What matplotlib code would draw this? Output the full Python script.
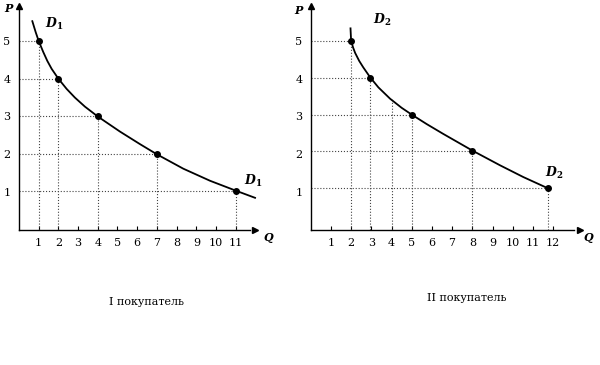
import matplotlib.pyplot as plt

plt.rcParams['font.family'] = ['DejaVu Serif']
plt.rcParams['mathtext.fontset'] = 'dejavuserif'

# marked points of the demand curves
q1 = [1, 2, 4, 7, 11]
p1 = [5, 4, 3, 2, 1.04]
q2 = [2, 2.95, 5, 8, 11.75]
p2 = [5, 4.03, 3.05, 2.1, 1.1]

# curve shapes
curve1_q = [0.68, 0.85, 1.0, 1.23, 1.44, 1.66, 2.0, 2.42, 2.84, 3.35, 4.0,
            5.13, 6.14, 7.0, 8.34, 9.7, 11.0, 11.98]
curve1_p = [5.52, 5.23, 5.0, 4.71, 4.47, 4.26, 4.0, 3.73, 3.5, 3.26, 3.0,
            2.6, 2.27, 2.0, 1.62, 1.3, 1.04, 0.85]
curve2_q = [1.97, 2.0, 2.1, 2.2, 2.4, 2.6, 2.95, 3.35, 3.93, 4.5, 5.0,
            5.74, 6.56, 8.0, 9.37, 10.52, 11.75]
curve2_p = [5.33, 5.0, 4.82, 4.68, 4.47, 4.3, 4.03, 3.77, 3.47, 3.23, 3.05,
            2.8, 2.54, 2.1, 1.71, 1.4, 1.1]

xticks1 = list(range(1, 12))
xticks2 = list(range(1, 13))
yticks = [1, 2, 3, 4, 5]

fig = plt.figure(figsize=(6, 3.65), dpi=100)

def panel(rect, xlim, xmax, curve_q, curve_p, q, p, xticks, dname, d_top, d_bot,
          caption, cap_xy, qlab, plab, extra=None):
    ax = fig.add_axes(rect)
    ax.set_xlim(*xlim)
    ax.set_ylim(-3.57, 6.08)
    for s in ['top', 'right']:
        ax.spines[s].set_visible(False)
    ax.spines['left'].set_position(('data', 0))
    ax.spines['bottom'].set_position(('data', 0))
    ax.spines['left'].set_bounds(0, 5.85)
    ax.spines['bottom'].set_bounds(0, xmax - 0.3)
    ax.spines['left'].set_linewidth(1.0)
    ax.spines['bottom'].set_linewidth(1.0)
    ax.plot(xmax, 0, '>', color='black', markersize=5, clip_on=False)
    ax.plot(0, 5.92, '^', color='black', markersize=5, clip_on=False)

    ax.set_xticks(xticks)
    ax.set_xticklabels([str(t) for t in xticks], fontsize=8)
    ax.set_yticks(yticks)
    ax.set_yticklabels([str(t) for t in yticks], fontsize=8)
    ax.tick_params(axis='x', direction='in', length=3, pad=6)
    ax.tick_params(axis='y', length=0, pad=6)

    for qi, pi in zip(q, p):
        ax.plot([0, qi], [pi, pi], ':', color='#444444', linewidth=0.8)
        ax.plot([qi, qi], [0, pi], ':', color='#444444', linewidth=0.8)
    if extra:
        ax.plot([extra[0], extra[0]], [0, extra[1]], ':', color='#444444', linewidth=0.8)

    ax.plot(curve_q, curve_p, color='black', linewidth=1.3, solid_joinstyle='round')
    ax.plot(q, p, 'o', color='black', markersize=4)

    ax.text(d_top[0], d_top[1], dname, fontsize=9)
    ax.text(d_bot[0], d_bot[1], dname, fontsize=9)
    ax.text(plab[0], plab[1], 'P', fontsize=8, fontstyle='italic', fontweight='bold')
    ax.text(qlab[0], qlab[1], 'Q', fontsize=8, fontstyle='italic', fontweight='bold')
    ax.text(cap_xy[0], cap_xy[1], caption, fontsize=8, ha='center', va='center')
    return ax

panel([0, 0, 0.5, 1], (-0.96, 14.26), 12.0, curve1_q, curve1_p, q1, p1, xticks1,
      r'$\mathbfit{D}_\mathbf{1}$', (1.3, 5.35), (11.4, 1.2), 'I покупатель', (6.45, -1.9),
      (12.4, -0.3), (-0.75, 5.75))
panel([0.5, 0, 0.5, 1], (-0.53, 14.32), 13.35, curve2_q, curve2_p, q2, p2, xticks2,
      r'$\mathbfit{D}_\mathbf{2}$', (3.1, 5.45), (11.6, 1.4), 'II покупатель', (7.74, -1.8),
      (13.5, -0.3), (-0.8, 5.7), extra=(4, 3.46))

fig.savefig('out.png', dpi=100)
